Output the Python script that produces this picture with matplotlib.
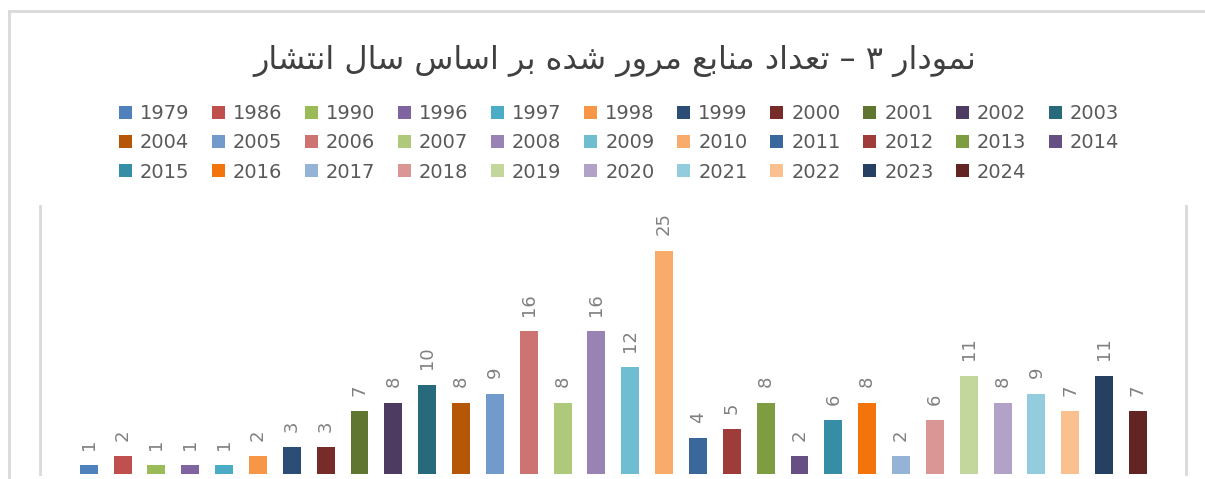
import colorsys
import matplotlib
matplotlib.use("Agg")
import matplotlib.pyplot as plt
from matplotlib.lines import Line2D

# data
years = ['1979', '1986', '1990', '1996', '1997', '1998', '1999', '2000',
         '2001', '2002', '2003', '2004', '2005', '2006', '2007', '2008',
         '2009', '2010', '2011', '2012', '2013', '2014', '2015', '2016',
         '2017', '2018', '2019', '2020', '2021', '2022', '2023', '2024']
counts = [1, 2, 1, 1, 1, 2, 3, 3, 7, 8, 10, 8, 9, 16, 8, 16,
          12, 25, 4, 5, 8, 2, 6, 8, 2, 6, 11, 8, 9, 7, 11, 7]
title = 'نمودار ۳ – تعداد منابع مرور شده بر اساس سال انتشار'

# office palette, excel cycles accents with luminance tweaks
accents = ['#4F81BD', '#C0504D', '#9BBB59', '#8064A2', '#4BACC6', '#F79646']
lum_steps = [(1.0, 0.0), (0.6, 0.0), (0.8, 0.2), (0.8, 0.0), (0.6, 0.4), (0.5, 0.0)]


def lum(hexcol, mod, off):
    r, g, b = [int(hexcol[i:i + 2], 16) / 255 for i in (1, 3, 5)]
    h, l, s = colorsys.rgb_to_hls(r, g, b)
    l = min(1.0, l * mod + off)
    return colorsys.hls_to_rgb(h, l, s)


colors = [lum(accents[i % 6], *lum_steps[i // 6]) for i in range(len(years))]

# matplotlib has no arabic shaping, so do the joining forms by hand
FORMS = {  # isolated, final, initial, medial
    'ا': (0xFE8D, 0xFE8E, None, None),
    'ب': (0xFE8F, 0xFE90, 0xFE91, 0xFE92),
    'ت': (0xFE95, 0xFE96, 0xFE97, 0xFE98),
    'د': (0xFEA9, 0xFEAA, None, None),
    'ر': (0xFEAD, 0xFEAE, None, None),
    'س': (0xFEB1, 0xFEB2, 0xFEB3, 0xFEB4),
    'ش': (0xFEB5, 0xFEB6, 0xFEB7, 0xFEB8),
    'ع': (0xFEC9, 0xFECA, 0xFECB, 0xFECC),
    'ل': (0xFEDD, 0xFEDE, 0xFEDF, 0xFEE0),
    'م': (0xFEE1, 0xFEE2, 0xFEE3, 0xFEE4),
    'ن': (0xFEE5, 0xFEE6, 0xFEE7, 0xFEE8),
    'ه': (0xFEE9, 0xFEEA, 0xFEEB, 0xFEEC),
    'و': (0xFEED, 0xFEEE, None, None),
}


def shape_fa(s):
    out = []
    i = 0
    while i < len(s):
        c = s[i]
        if c not in FORMS:
            out.append(c)
            i += 1
            continue
        prev = s[i - 1] if i > 0 else ''
        joins_prev = prev in FORMS and FORMS[prev][2] is not None
        if c == 'ل' and i + 1 < len(s) and s[i + 1] == 'ا':
            out.append(chr(0xFEFC if joins_prev else 0xFEFB))
            i += 2
            continue
        nxt = s[i + 1] if i + 1 < len(s) else ''
        joins_next = FORMS[c][2] is not None and nxt in FORMS
        iso, fin, ini, med = FORMS[c]
        if joins_prev and joins_next:
            g = med
        elif joins_prev:
            g = fin
        elif joins_next:
            g = ini
        else:
            g = iso
        out.append(chr(g))
        i += 1
    return ''.join(reversed(out))


W, H = 1205, 479
fig = plt.figure(figsize=(W / 100, H / 100), dpi=100)

# outer chart frame (bottom and right are cut off in the picture)
frame = '#D9D9D9'
fig.add_artist(Line2D([9 / W, 9 / W], [0, 1 - 11 / H], color=frame, lw=2))
fig.add_artist(Line2D([9 / W, 1], [1 - 11 / H, 1 - 11 / H], color=frame, lw=2))

fig.text(615 / W, 1 - 61 / H, shape_fa(title), ha='center', va='center',
         fontsize=23, color='#404040', family='DejaVu Sans')

ax = fig.add_axes([40 / W, 5 / H, (1186 - 40) / W, (474 - 206) / H])
x = list(range(len(years)))
bars = ax.bar(x, counts, width=0.53, color=colors)
for xi, v in zip(x, counts):
    ax.annotate(str(v), (xi, v), xytext=(0, 11), textcoords='offset points',
                rotation=90, ha='center', va='bottom', fontsize=13,
                color='#808080')

ax.set_xlim(-1.44, len(years) - 1 + 1.42)
ax.set_ylim(0, 30)
ax.set_xticks([])
ax.set_yticks([])
for side in ['top', 'bottom']:
    ax.spines[side].set_visible(False)
for side in ['left', 'right']:
    ax.spines[side].set_color(frame)
    ax.spines[side].set_linewidth(2)

# legend fills column by column, so reorder to read row by row
ncol = 11
order = [r * ncol + j for j in range(ncol) for r in range(3) if r * ncol + j < len(years)]
leg = fig.legend([bars.patches[i] for i in order], [years[i] for i in order],
                 ncol=ncol, loc='upper left',
                 bbox_to_anchor=(119 / W, 1 - 104 / H), frameon=False,
                 fontsize=14, handlelength=0.67, handleheight=0.67,
                 handletextpad=0.41, columnspacing=1.16, labelspacing=0.53,
                 borderpad=0, borderaxespad=0)
for t in leg.get_texts():
    t.set_color('#595959')

fig.savefig('out.png', dpi=100)
